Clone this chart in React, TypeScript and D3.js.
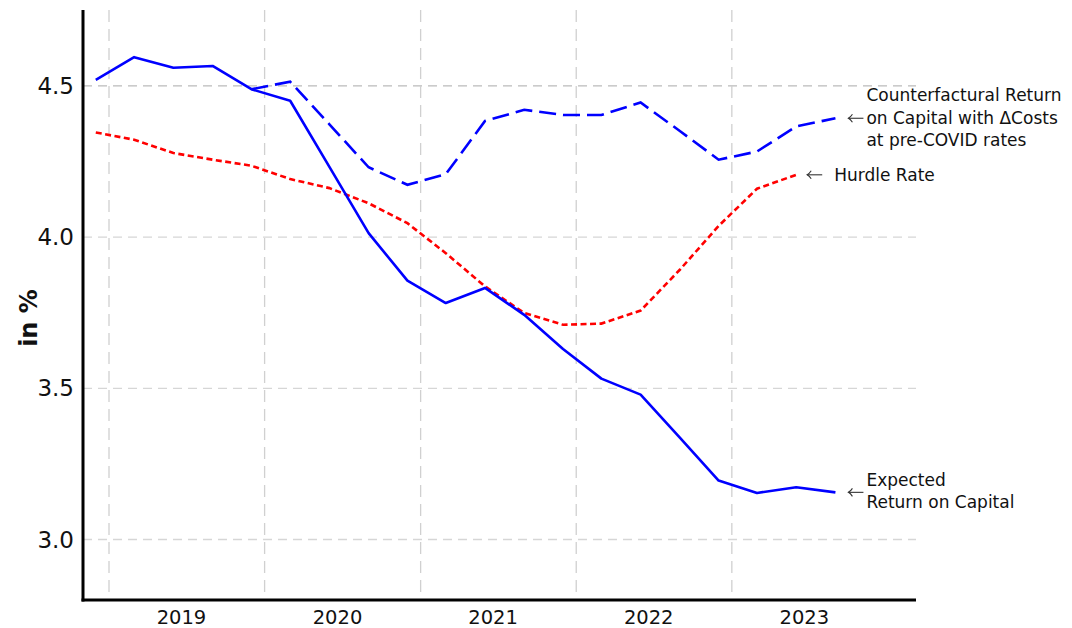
import React from "react";
import * as d3 from "d3";

// quarterly observations (year-month)
const quarters = [
  "2018-12", "2019-03", "2019-06", "2019-09", "2019-12",
  "2020-03", "2020-06", "2020-09", "2020-12",
  "2021-03", "2021-06", "2021-09", "2021-12",
  "2022-03", "2022-06", "2022-09", "2022-12",
  "2023-03", "2023-06", "2023-09",
];

const expected = [
  4.52, 4.595, 4.56, 4.566, 4.489,
  4.451, 4.232, 4.013, 3.856,
  3.782, 3.832, 3.743, 3.63,
  3.532, 3.479, 3.337, 3.195,
  3.154, 3.173, 3.156,
];

// starts at 2019-12
const counterfactual = [
  4.489, 4.514, 4.373, 4.231, 4.173,
  4.208, 4.384, 4.421, 4.404,
  4.404, 4.445, 4.351, 4.256,
  4.283, 4.366, 4.393,
];

// ends at 2023-06
const hurdle = [
  4.346, 4.322, 4.278, 4.256, 4.236,
  4.192, 4.162, 4.112, 4.046,
  3.947, 3.837, 3.749, 3.71,
  3.714, 3.757, 3.892, 4.037,
  4.16, 4.206,
];

const years = [2019, 2020, 2021, 2022, 2023];
const yTicks = [3.0, 3.5, 4.0, 4.5];

const W = 1072;
const H = 628;
const left = 83;
const right = 916;
const top = 10;
const bottom = 600;

const parse = d3.timeParse("%Y-%m");

export default function App() {
  const x = d3
    .scaleTime()
    .domain([new Date(2018, 10, 1), new Date(2024, 2, 8)])
    .range([left, right]);
  const y = d3.scaleLinear().domain([2.8, 4.751]).range([bottom, top]);

  const line = d3
    .line<[Date, number]>()
    .x((d) => x(d[0]))
    .y((d) => y(d[1]));

  const dates = quarters.map((q) => parse(q) as Date);
  const expPts = dates.map((d, i) => [d, expected[i]] as [Date, number]);
  const cfPts = counterfactual.map((v, i) => [dates[i + 4], v] as [Date, number]);
  const hrPts = hurdle.map((v, i) => [dates[i], v] as [Date, number]);

  const font = "'DejaVu Sans', sans-serif";
  const lastExp = expPts[expPts.length - 1];
  const lastCf = cfPts[cfPts.length - 1];
  const lastHr = hrPts[hrPts.length - 1];

  // thin arrow like the LaTeX \leftarrow
  const arrow = (x0: number, yc: number, key: string) => (
    <g key={key} stroke="#333" strokeWidth={1.1} fill="none">
      <line x1={x0} x2={x0 + 15} y1={yc} y2={yc} />
      <path d={`M${x0 + 4},${yc - 4} Q${x0 + 2},${yc - 1} ${x0},${yc} Q${x0 + 2},${yc + 1} ${x0 + 4},${yc + 4}`} />
    </g>
  );

  return (
    <svg
      width={W}
      height={H}
      style={{ position: "absolute", left: 0, top: 0, background: "#fff" }}
      fontFamily={font}
    >
      {/* grid */}
      {yTicks.map((t) => (
        <line
          key={"gy" + t}
          x1={left}
          x2={right}
          y1={y(t)}
          y2={y(t)}
          stroke={t === 4.5 ? "#bbb" : "#d6d6d6"}
          strokeWidth={1.3}
          strokeDasharray="9,6"
        />
      ))}
      {years.map((yr) => (
        <line
          key={"gx" + yr}
          x1={x(new Date(yr, 0, 1))}
          x2={x(new Date(yr, 0, 1))}
          y1={top}
          y2={bottom}
          stroke="#d0d0d0"
          strokeWidth={1.3}
          strokeDasharray="12,7"
        />
      ))}

      {/* series */}
      <path d={line(hrPts) || ""} fill="none" stroke="#ff0000" strokeWidth={2.6} strokeDasharray="6,3.5" />
      <path d={line(cfPts) || ""} fill="none" stroke="#0000ff" strokeWidth={2.6} strokeDasharray="17,7" />
      <path d={line(expPts) || ""} fill="none" stroke="#0000ff" strokeWidth={2.6} strokeLinejoin="round" />

      {/* spines */}
      <line x1={left} x2={left} y1={top} y2={bottom + 1.5} stroke="#000" strokeWidth={3} />
      <line x1={left - 1.5} x2={right} y1={bottom} y2={bottom} stroke="#000" strokeWidth={3} />

      {/* ticks */}
      {yTicks.map((t) => (
        <text
          key={"ty" + t}
          x={left - 9}
          y={y(t)}
          textAnchor="end"
          dominantBaseline="central"
          fontSize={23}
          fill="#111"
        >
          {d3.format(".1f")(t)}
        </text>
      ))}
      {years.map((yr) => (
        <text
          key={"tx" + yr}
          x={x(new Date(yr, 5, 20))}
          y={bottom + 24}
          textAnchor="middle"
          fontSize={19.5}
          fill="#111"
        >
          {yr}
        </text>
      ))}
      <text
        transform={`translate(29,${(top + bottom) / 2 + 13}) rotate(-90)`}
        textAnchor="middle"
        dominantBaseline="central"
        fontSize={24}
        fontWeight="bold"
        fill="#111"
      >
        in %
      </text>

      {/* annotations */}
      <g fontSize={17} fill="#111">
        {arrow(x(lastCf[0]) + 13, y(lastCf[1]), "a1")}
        <text x={x(lastCf[0]) + 31} y={y(lastCf[1]) - 23} dominantBaseline="central">
          Counterfactural Return
        </text>
        <text x={x(lastCf[0]) + 31} y={y(lastCf[1])} dominantBaseline="central">
          on Capital with ΔCosts
        </text>
        <text x={x(lastCf[0]) + 31} y={y(lastCf[1]) + 22} dominantBaseline="central">
          at pre-COVID rates
        </text>

        {arrow(x(lastHr[0]) + 11, y(lastHr[1]), "a2")}
        <text x={x(lastHr[0]) + 38} y={y(lastHr[1])} dominantBaseline="central">
          Hurdle Rate
        </text>

        {arrow(x(lastExp[0]) + 13, y(lastExp[1]), "a3")}
        <text x={x(lastExp[0]) + 31} y={y(lastExp[1]) - 12} dominantBaseline="central">
          Expected
        </text>
        <text x={x(lastExp[0]) + 31} y={y(lastExp[1]) + 10} dominantBaseline="central">
          Return on Capital
        </text>
      </g>
    </svg>
  );
}
